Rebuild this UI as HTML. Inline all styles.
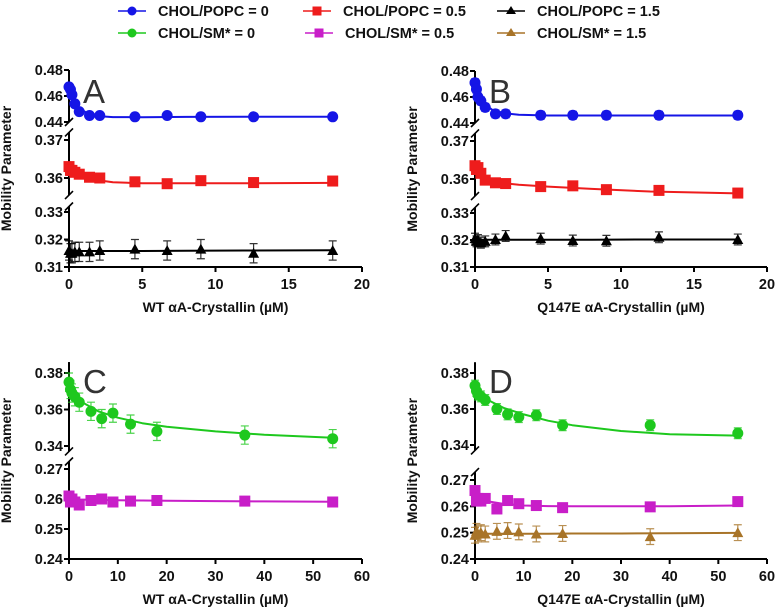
<!DOCTYPE html>
<html><head><meta charset="utf-8"><style>
body{margin:0;background:#fff;}
svg{display:block;font-family:"Liberation Sans",Arial,sans-serif;}
.tk{font-size:14.5px;font-weight:bold;fill:#111;}
.ttl{font-size:14px;font-weight:bold;fill:#111;}
.let{font-size:33px;fill:#333;}
.lg{font-size:14.5px;font-weight:bold;fill:#111;}
</style></head><body>
<svg id="c" width="775" height="611" viewBox="0 0 775 611"></svg>
<script>
const xA=[0,0.1,0.2,0.4,0.7,1.4,2.1,4.5,6.7,9,12.6,18];
const xC=[0,0.3,0.6,1.2,2.1,4.5,6.7,9,12.6,18,36,54];
const A_blue=[0.467,0.465,0.461,0.454,0.448,0.445,0.445,0.444,0.445,0.444,0.444,0.444];
const A_red=[0.363,0.362,0.362,0.3615,0.361,0.3602,0.36,0.359,0.3585,0.3593,0.3588,0.3592];
const A_black=[0.316,0.315,0.315,0.3155,0.3155,0.3155,0.316,0.3165,0.316,0.3165,0.315,0.316];
const B_blue=[0.471,0.466,0.46,0.457,0.452,0.447,0.447,0.446,0.446,0.446,0.446,0.446];
const B_red=[0.3635,0.3625,0.363,0.3615,0.3597,0.359,0.3588,0.358,0.3582,0.3572,0.357,0.3563];
const B_black=[0.3205,0.3195,0.32,0.319,0.3195,0.3202,0.3215,0.3205,0.3198,0.3197,0.321,0.3202];
const C_green=[0.375,0.371,0.369,0.367,0.364,0.359,0.355,0.358,0.352,0.348,0.346,0.344];
const C_mag=[0.261,0.259,0.26,0.259,0.258,0.2595,0.26,0.259,0.2593,0.2595,0.2593,0.259];
const D_green=[0.373,0.37,0.368,0.367,0.365,0.36,0.357,0.3555,0.3565,0.351,0.351,0.3465];
const D_mag=[0.266,0.262,0.263,0.262,0.263,0.259,0.2622,0.261,0.2603,0.2595,0.2598,0.2618];
const D_brown=[0.249,0.2505,0.2495,0.25,0.2495,0.2505,0.2508,0.2503,0.2495,0.2497,0.2485,0.25];
const fitXA=[0,0.3,0.7,1.2,2,3,5,8,12,18];
const fitA_blue=[0.466,0.458,0.451,0.447,0.4445,0.4438,0.4437,0.4439,0.444,0.444];
const fitA_red=[0.3625,0.3617,0.3608,0.3601,0.3594,0.3589,0.3586,0.3586,0.3586,0.3587];
const fitA_black=[0.3158,0.3158,0.3158,0.3158,0.3158,0.3158,0.3158,0.3159,0.316,0.3161];
const fitB_blue=[0.469,0.461,0.454,0.45,0.4475,0.4463,0.4458,0.4458,0.4458,0.4458];
const fitB_red=[0.3632,0.3616,0.3603,0.3595,0.3589,0.3585,0.358,0.3574,0.3567,0.3562];
const fitB_black=[0.3201,0.3201,0.3201,0.3201,0.3201,0.3201,0.3201,0.3201,0.3202,0.3202];
const fitXC=[0,1,3,6,10,15,20,30,40,54];
const fitC_green=[0.371,0.3685,0.3635,0.359,0.3555,0.3525,0.3505,0.348,0.3462,0.3445];
const fitC_mag=[0.2598,0.2598,0.2598,0.2597,0.2596,0.2595,0.2594,0.2593,0.2592,0.2591];
const fitD_green=[0.3705,0.368,0.3645,0.3605,0.357,0.3535,0.351,0.3478,0.346,0.3452];
const fitD_mag=[0.2635,0.2628,0.2618,0.2609,0.2603,0.2601,0.26,0.26,0.26,0.2603];
const fitD_brown=[0.2496,0.2496,0.2496,0.2496,0.2496,0.2496,0.2497,0.2497,0.2498,0.2499];
const ticksXA=[0,5,10,15,20];
const ticksXC=[0,10,20,30,40,50,60];

const NS="http://www.w3.org/2000/svg";
const svg=document.getElementById('c');
function mk(t,a,p){const e=document.createElementNS(NS,t);for(const k in a)e.setAttribute(k,a[k]);(p||svg).appendChild(e);return e;}
const COL={blue:'#1515e6',red:'#ee1c1c',black:'#000',green:'#1ec81e',mag:'#c81ec8',brown:'#a87428'};

function panel(cfg){
  const g=mk('g',{});
  
  
  const x0=cfg.x0,x1=cfg.x1,xmax=cfg.xmax,yb=cfg.yb;
  const sx=v=>x0+(v/xmax)*(x1-x0);
  function sy(v){let best=cfg.segs[0],bd=1e9;
    for(const s of cfg.segs){const d=v<s.lo?s.lo-v:(v>s.hi?v-s.hi:0);if(d<bd){bd=d;best=s;}}
    const s=best;return s.p0+(v-s.v0)*(s.p1-s.p0)/(s.v1-s.v0);}
  cfg.segs.forEach((s,i)=>{
    const top=sy(s.hi),bot=(i==cfg.segs.length-1)?yb:sy(s.lo);
    const l=mk('line',{x1:x0,x2:x0,y1:top,y2:bot,stroke:'#000','stroke-width':2},g);
    
    if(i>0){mk('line',{x1:x0-4,x2:x0+4,y1:top+4,y2:top-4,stroke:'#000','stroke-width':1.6},g);}
    if(i<cfg.segs.length-1){mk('line',{x1:x0-4,x2:x0+4,y1:bot+4,y2:bot-4,stroke:'#000','stroke-width':1.6},g);}
    s.ticks.forEach(t=>{const y=sy(t);
      mk('line',{x1:x0-5,x2:x0,y1:y,y2:y,stroke:'#000','stroke-width':2},g);
      const tx=mk('text',{x:x0-6,y:y+5,'text-anchor':'end',class:'tk'},g);tx.textContent=t.toFixed(2);
      });
  });
  const xl=mk('line',{x1:x0-1,x2:x1,y1:yb,y2:yb,stroke:'#000','stroke-width':2},g);
  
  cfg.xt.forEach(t=>{const x=sx(t);mk('line',{x1:x,x2:x,y1:yb,y2:yb+5,stroke:'#000','stroke-width':2},g);
    const tx=mk('text',{x:x,y:yb+22,'text-anchor':'middle',class:'tk'},g);tx.textContent=t;
    });
  const xt=mk('text',{x:(x0+x1)/2,y:yb+45,'text-anchor':'middle',class:'ttl'},g);xt.textContent=cfg.xtitle;
  
  const cy=(sy(cfg.segs[0].hi)+yb)/2;
  const yt=mk('text',{x:0,y:0,transform:`translate(${x0-58},${cy}) rotate(-90)`,'text-anchor':'middle',class:'ttl'},g);yt.textContent='Mobility Parameter';
  
  const lt=mk('text',{x:x0+14,y:cfg.letY,class:'let'},g);lt.textContent=cfg.letter;
  
  cfg.series.forEach(s=>{
    const c=COL[s.col];
    const d=s.fx.map((v,i)=>(i?'L':'M')+sx(v).toFixed(1)+','+sy(s.fy[i]).toFixed(1)).join(' ');
    const p=mk('path',{d:d,fill:'none',stroke:c,'stroke-width':2,'stroke-linejoin':'round'},g);
    
    s.y.forEach((v,i)=>{const x=sx(s.x[i]),y=sy(v);
      if(s.err){const e1=sy(v+s.err),e2=sy(v-s.err);
        mk('path',{d:`M${x},${e1}V${e2}M${x-4},${e1}H${x+4}M${x-4},${e2}H${x+4}`,stroke:c,'stroke-width':1.2,fill:'none',opacity:0.8},g);}
      let m;
      if(s.shape=='c')m=mk('circle',{cx:x,cy:y,r:5.5,fill:c},g);
      else if(s.shape=='s')m=mk('rect',{x:x-5.5,y:y-5.5,width:11,height:11,fill:c},g);
      else m=mk('path',{d:`M${x},${y-5.5}L${x+5.5},${y+4.5}L${x-5.5},${y+4.5}Z`,fill:c},g);
      
    });
  });
}
const segAB=(o)=>[
 {lo:0.44,hi:0.48,v0:0.48,p0:70+o,v1:0.44,p1:122+o,ticks:[0.48,0.46,0.44]},
 {lo:0.3555,hi:0.372,v0:0.37,p0:140+o,v1:0.36,p1:178+o,ticks:[0.37,0.36]},
 {lo:0.31,hi:0.332,v0:0.33,p0:212+o,v1:0.31,p1:267,ticks:[0.33,0.32,0.31]}];
panel({letter:'A',x0:69,x1:362,xmax:20,yb:267,letY:103,xt:ticksXA,xtitle:'WT αA-Crystallin (µM)',segs:segAB(0),
 series:[{col:'blue',shape:'c',x:xA,y:A_blue,fx:fitXA,fy:fitA_blue},
 {col:'red',shape:'s',x:xA,y:A_red,fx:fitXA,fy:fitA_red},
 {col:'black',shape:'t',x:xA,y:A_black,err:0.0035,fx:fitXA,fy:fitA_black}]});
panel({letter:'B',x0:475,x1:767,xmax:20,yb:267,letY:103,xt:ticksXA,xtitle:'Q147E αA-Crystallin (µM)',segs:segAB(1),
 series:[{col:'blue',shape:'c',x:xA,y:B_blue,err:0.003,fx:fitXA,fy:fitB_blue},
 {col:'red',shape:'s',x:xA,y:B_red,err:0.001,fx:fitXA,fy:fitB_red},
 {col:'black',shape:'t',x:xA,y:B_black,err:0.002,fx:fitXA,fy:fitB_black}]});
panel({letter:'C',x0:69,x1:362,xmax:60,yb:559,letY:393,xt:ticksXC,xtitle:'WT αA-Crystallin (µM)',
 segs:[{lo:0.337,hi:0.386,v0:0.38,p0:373,v1:0.34,p1:446,ticks:[0.38,0.36,0.34]},
       {lo:0.24,hi:0.2725,v0:0.27,p0:469,v1:0.24,p1:559,ticks:[0.27,0.26,0.25,0.24]}],
 series:[{col:'green',shape:'c',x:xC,y:C_green,err:0.005,fx:fitXC,fy:fitC_green},
 {col:'mag',shape:'s',x:xC,y:C_mag,fx:fitXC,fy:fitC_mag}]});
panel({letter:'D',x0:475,x1:767,xmax:60,yb:559,letY:393,xt:ticksXC,xtitle:'Q147E αA-Crystallin (µM)',
 segs:[{lo:0.337,hi:0.386,v0:0.38,p0:373,v1:0.34,p1:445,ticks:[0.38,0.36,0.34]},
       {lo:0.24,hi:0.273,v0:0.27,p0:480,v1:0.24,p1:559,ticks:[0.27,0.26,0.25,0.24]}],
 series:[{col:'green',shape:'c',x:xC,y:D_green,err:0.003,fx:fitXC,fy:fitD_green},
 {col:'mag',shape:'s',x:xC,y:D_mag,err:0.0015,fx:fitXC,fy:fitD_mag},
 {col:'brown',shape:'t',x:xC,y:D_brown,err:0.003,fx:fitXC,fy:fitD_brown}]});
const leg=[['blue','c','CHOL/POPC = 0',118,11],['red','s','CHOL/POPC = 0.5',303,11],['black','t','CHOL/POPC = 1.5',497,11],
 ['green','c','CHOL/SM* = 0',118,33],['mag','s','CHOL/SM* = 0.5',305,33],['brown','t','CHOL/SM* = 1.5',497,33]];
leg.forEach(l=>{const g=mk('g',{});
 
 const c=COL[l[0]],x=l[3],y=l[4];
 mk('line',{x1:x,x2:x+28,y1:y,y2:y,stroke:c,'stroke-width':1.5},g);
 const m=x+14;
 if(l[1]=='c')mk('circle',{cx:m,cy:y,r:4.5,fill:c},g);
 else if(l[1]=='s')mk('rect',{x:m-4.5,y:y-4.5,width:9,height:9,fill:c},g);
 else mk('path',{d:`M${m},${y-5}L${m+5},${y+3}L${m-5},${y+3}Z`,fill:c},g);
 const t=mk('text',{x:x+40,y:y+5,class:'lg'},g);t.textContent=l[2];});
</script>
</body></html>
